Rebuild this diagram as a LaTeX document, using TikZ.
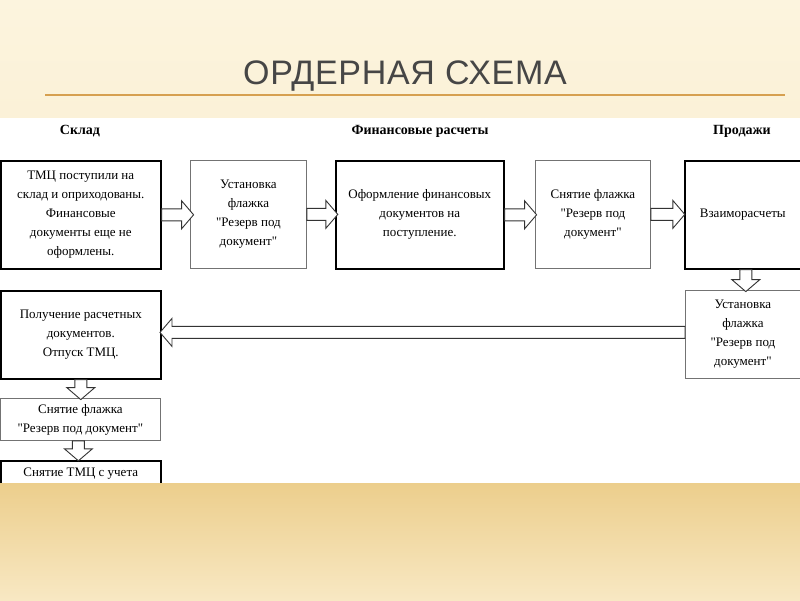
\documentclass[tikz,border=0pt]{standalone}
\usepackage{fontspec}
\setmainfont{Liberation Serif}
\newfontfamily\plainserif{Liberation Serif}
\newfontfamily\titlefont[LetterSpace=2]{Liberation Sans}
\usetikzlibrary{calc}
\definecolor{bgtop}{RGB}{252,244,222}
\definecolor{bgmid}{RGB}{248,232,195}
\definecolor{band}{RGB}{236,206,140}
\definecolor{rule}{RGB}{214,160,80}
\definecolor{ttl}{RGB}{70,70,70}
\newcommand\q{{\plainserif\char"22}}
\tikzset{
  thickbox/.style={draw=black, line width=1.6pt, fill=white, align=center, inner sep=1pt, font=\fontsize{13}{19}\selectfont},
  thinbox/.style={draw=black!55, line width=0.8pt, fill=white, align=center, inner sep=1pt, font=\fontsize{13}{19}\selectfont},
  head/.style={font=\bfseries\fontsize{14}{16}\selectfont},
  blk/.style={draw=black!80, line width=0.9pt, fill=white}
}
\newcommand\barrow[3]{%
  \draw[blk, shift={(#1)}, rotate=#3] (0,6pt) -- ({#2-12},6pt) -- ({#2-12},14pt) -- (#2,0) -- ({#2-12},-14pt) -- ({#2-12},-6pt) -- (0,-6pt) -- cycle;}
\begin{document}
\begin{tikzpicture}[x=1pt,y=-1pt]
\useasboundingbox (0,0) rectangle (800,600);
\shade[top color=bgtop, bottom color=bgmid] (0,0) rectangle (800,483);
\draw[rule, line width=1.5pt] (45,95) -- (785,95);
\node[text=ttl, font=\titlefont\fontsize{34}{36}\selectfont] (title) at (405,76) {ОРДЕРНАЯ СХЕМА};
\fill[white] (0,118) rectangle (800,483);
\node[head] (h1) at (80,131) {Склад};
\node[head] (h2) at (420,131) {Финансовые расчеты};
\node[head] (h3) at (742,131) {Продажи};
\node[thickbox, minimum width=160, minimum height=108, anchor=north west] (A) at (0,160) {ТМЦ поступили на\\склад и оприходованы.\\Финансовые\\документы еще не\\оформлены.};
\node[thinbox, minimum width=116, minimum height=108, anchor=north west] (B) at (190,160) {Установка\\флажка\\\q Резерв под\\документ\q};
\node[thickbox, minimum width=168, minimum height=108, anchor=north west] (C) at (335,160) {Оформление финансовых\\документов на\\поступление.};
\node[thinbox, minimum width=115, minimum height=108, anchor=north west] (D) at (535,160) {Снятие флажка\\\q Резерв под\\документ\q};
\node[thickbox, minimum width=116, minimum height=108, anchor=north west] (E) at (684,160) {Взаиморасчеты};
\node[thinbox, minimum width=115, minimum height=88, anchor=north west] (F) at (685,290) {Установка\\флажка\\\q Резерв под\\документ\q};
\node[thickbox, minimum width=160, minimum height=88, anchor=north west] (G) at (0,290) {Получение расчетных\\документов.\\Отпуск ТМЦ.};
\node[thinbox, minimum width=160, minimum height=42, anchor=north west] (H) at (0,398) {Снятие флажка\\\q Резерв под документ\q};
\node[thickbox, minimum width=160, minimum height=40, anchor=north west, text height=10, text depth=18] (I) at (0,460) {Снятие ТМЦ  с учета};
\barrow{A.east}{32}{0}
\barrow{B.east}{31}{0}
\barrow{C.east}{32}{0}
\barrow{D.east}{34}{0}
\barrow{$(E.south)+(3,0)$}{22}{-90}
\barrow{$(F.west)+(0,-2)$}{525}{180}
\barrow{G.south}{20}{-90}
\barrow{$(H.south)+(-2,0)$}{20}{-90}
\shade[top color=band, bottom color=bgmid] (0,483) rectangle (800,600);
\end{tikzpicture}
\end{document}
